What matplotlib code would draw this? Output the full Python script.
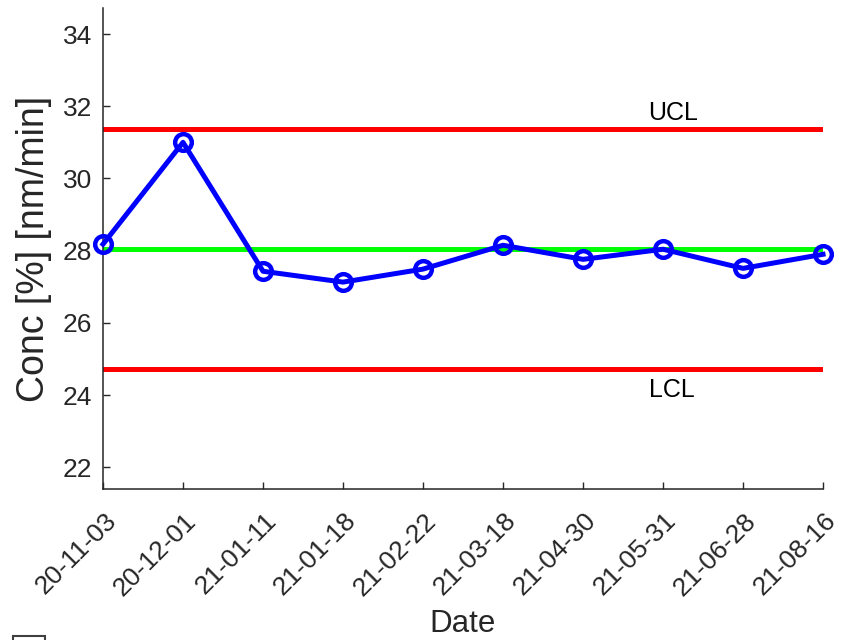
import matplotlib.pyplot as plt
from matplotlib.patches import Rectangle
from matplotlib.transforms import ScaledTranslation

# control chart data
dates = ['20-11-03', '20-12-01', '21-01-11', '21-01-18', '21-02-22',
         '21-03-18', '21-04-30', '21-05-31', '21-06-28', '21-08-16']
conc = [28.18, 31.00, 27.43, 27.13, 27.49, 28.15, 27.76, 28.04, 27.51, 27.90]
ucl = 31.37
center = 28.04
lcl = 24.71
yticks = [22, 24, 26, 28, 30, 32, 34]

plt.rcParams['font.family'] = ['Liberation Sans', 'DejaVu Sans']
axis_col = '#262626'

fig = plt.figure(figsize=(8.43, 6.4), dpi=100)
ax = fig.add_axes([0.1222, 0.2359, 0.8541, 0.7516])

x = list(range(len(dates)))
ax.plot([x[0], x[-1]], [center, center], color='#00ff00', lw=3.6, zorder=2)
ax.plot([x[0], x[-1]], [ucl, ucl], color='#ff0000', lw=3.6, zorder=2)
ax.plot([x[0], x[-1]], [lcl, lcl], color='#ff0000', lw=3.6, zorder=2)
ax.plot(x, conc, color='#0000ff', lw=3.6, marker='o', ms=12, mew=3.2,
        mfc='none', mec='#0000ff', zorder=3, clip_on=False)

ax.text(7.13, ucl + 0.45, 'UCL', ha='center', va='center', fontsize=18, color='black')
ax.text(7.11, lcl - 0.58, 'LCL', ha='center', va='center', fontsize=18, color='black')

ax.set_xlim(x[0], x[-1])
ax.set_ylim(21.4, 34.72)
ax.set_yticks(yticks)
ax.set_xticks(x)
ax.set_xticklabels(dates, rotation=45, ha='right', va='top', rotation_mode='anchor')

for s in ['top', 'right']:
    ax.spines[s].set_visible(False)
for s in ['left', 'bottom']:
    ax.spines[s].set_color(axis_col)
    ax.spines[s].set_linewidth(1.1)

ax.tick_params(axis='both', direction='in', length=5, width=1, color=axis_col,
               labelcolor=axis_col, labelsize=19)
ax.tick_params(axis='y', pad=8)
ax.tick_params(axis='x', labelsize=19, pad=14)

offset = ScaledTranslation(1 / 100, 0, fig.dpi_scale_trans)
for lab in ax.xaxis.get_majorticklabels():
    lab.set_transform(lab.get_transform() + offset)

ax.set_ylabel('Conc [%] [nm/min]', fontsize=27, color=axis_col)
ax.yaxis.set_label_coords(-0.071, 0.5)
ax.set_xlabel('Date', fontsize=22.5, color=axis_col, va='top')
ax.xaxis.set_label_coords(0.5, -0.25)

# edge of a box cut off at the bottom left
fig.patches.append(Rectangle((13 / 843, -0.02), 32 / 843, 0.02 + 4 / 640,
                             transform=fig.transFigure, fill=False,
                             edgecolor='#404040', lw=1.5))

fig.savefig('out.png', dpi=100)
